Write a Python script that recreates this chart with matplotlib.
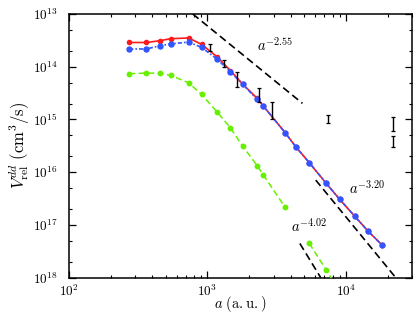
import numpy as np
import matplotlib
matplotlib.use("Agg")
import matplotlib.pyplot as plt
from matplotlib.ticker import LogLocator, FuncFormatter, NullFormatter, FixedLocator

plt.rcParams['mathtext.fontset'] = 'cm'
plt.rcParams['font.family'] = ['DejaVu Serif']

# ---------------- data ----------------
a_vals = [272, 362, 452, 542, 730, 906, 1170, 1463, 1793, 2292, 2530,
          3641, 4345, 5442, 7215, 9015, 11560, 14450, 18070]

red_vals = [2.88e-14, 2.88e-14, 3.11e-14, 3.40e-14, 3.51e-14, 2.66e-14,
            1.55e-14, 8.48e-15, 4.70e-15, 2.50e-15, 1.80e-15, 5.60e-16,
            3.03e-16, 1.51e-16, 6.12e-17, 3.05e-17, 1.47e-17, 7.62e-18, 4.26e-18]

blue_vals = [2.17e-14, 2.17e-14, 2.50e-14, 2.70e-14, 2.94e-14, 2.33e-14,
             1.40e-14, 8.03e-15, 4.64e-15, 2.40e-15, 1.80e-15, 5.60e-16,
             3.03e-16, 1.51e-16, 6.12e-17, 3.05e-17, 1.47e-17, 7.62e-18, 4.26e-18]

green_a = [272, 362, 452, 542, 730, 906, 1170, 1463, 1793, 2292, 2530,
           3641, 4345, 5442, 7215, 9015]
green_vals = [7.36e-15, 7.59e-15, 7.50e-15, 6.87e-15, 4.97e-15, 2.99e-15,
              1.40e-15, 6.96e-16, 3.13e-16, 1.32e-16, 8.92e-17, 2.15e-17,
              np.nan, 4.46e-18, 1.39e-18, 5.5e-19]

# experimental points (lower, upper)
exp_a = [1051, 1324, 1636, 2366, 2918, 7464, 21880, 21880]
exp_lo = [2.01e-14, 9.75e-15, 4.17e-15, 2.17e-15, 1.03e-15, 8.65e-16, 6.1e-16, 3.03e-16]
exp_hi = [2.70e-14, 1.34e-14, 8.03e-15, 4.03e-15, 2.17e-15, 1.21e-15, 1.10e-15, 4.84e-16]

# power-law guide lines
guide_x = [(783, 4853), (6053, 22900), (4645, 6577)]
guide_y = [(1.0e-13, 2.02e-15), (7.08e-17, 1.0e-18), (4.46e-18, 1.0e-18)]
guide_labels = [r'$a^{-2.55}$', r'$a^{-3.20}$', r'$a^{-4.02}$']
label_pos = [(2290, 2.6e-14), (10500, 5.0e-17), (4000, 9.5e-18)]

x_ticks = [1e2, 1e3, 1e4]
y_ticks = [1e-18, 1e-17, 1e-16, 1e-15, 1e-14, 1e-13]

# ---------------- plot ----------------
fig = plt.figure(figsize=(4.15, 3.15), dpi=100)
ax = fig.add_axes([0.1663, 0.1184, 0.9928 - 0.1663, 0.9556 - 0.1184])

ax.plot(green_a, green_vals, color='#66f000', lw=1.1, dashes=(4, 2.2),
        marker='o', ms=3.2, mec='#66f000', zorder=3)
ax.plot(a_vals, blue_vals, color='#3355ff', lw=1.2, dashes=(2.5, 1.2, 1, 1.2),
        marker='o', ms=3.6, mec='#3355ff', zorder=4)
ax.plot(a_vals, red_vals, color='#ff1a1a', lw=1.2, marker='o', ms=3.0,
        mec='#ff1a1a', zorder=3)

exp_c = np.sqrt(np.array(exp_lo) * np.array(exp_hi))
yerr = [exp_c - np.array(exp_lo), np.array(exp_hi) - exp_c]
ax.errorbar(exp_a, exp_c, yerr=yerr, fmt='none', ecolor='black',
            elinewidth=1.0, capsize=1.3, capthick=0.9, zorder=5)

for (gx, gy) in zip(guide_x, guide_y):
    ax.plot(gx, gy, color='black', lw=1.2, dashes=(4.5, 2.5), zorder=2)

for lab, (lx, ly) in zip(guide_labels, label_pos):
    ax.text(lx, ly, lab, fontsize=10.5, ha='left', va='center')

ax.set_xscale('log')
ax.set_yscale('log')
ax.set_xlim(100, 3e4)
ax.set_ylim(1e-18, 1e-13)

ax.xaxis.set_major_locator(FixedLocator(x_ticks))
ax.xaxis.set_minor_locator(LogLocator(base=10, subs=np.arange(2, 10), numticks=20))
ax.yaxis.set_major_locator(FixedLocator(y_ticks))
ax.yaxis.set_minor_locator(LogLocator(base=10, subs=(2.0, 5.0), numticks=20))
ax.xaxis.set_minor_formatter(NullFormatter())
ax.yaxis.set_minor_formatter(NullFormatter())

ax.xaxis.set_major_formatter(FuncFormatter(lambda v, p: r'$10^{%d}$' % round(np.log10(v))))
ax.yaxis.set_major_formatter(FuncFormatter(lambda v, p: r'$10^{%d}$' % abs(round(np.log10(v)))))

ax.tick_params(which='both', direction='in', top=True, right=True, labelsize=9.5)
ax.tick_params(which='major', length=5, width=0.9)
ax.tick_params(which='minor', length=2.5, width=0.8)
ax.tick_params(axis='y', which='major', pad=8)
ax.tick_params(axis='x', which='major', pad=4)
for s in ax.spines.values():
    s.set_linewidth(1.1)

ax.set_xlabel(r'$a\ \mathrm{(a.u.)}$', fontsize=10.5, labelpad=-3)
ax.set_ylabel(r'$V_{\mathrm{rel}}^{dd}\ \mathrm{(cm^3/s)}$', fontsize=12, labelpad=1)

fig.savefig('out.png', dpi=100)
